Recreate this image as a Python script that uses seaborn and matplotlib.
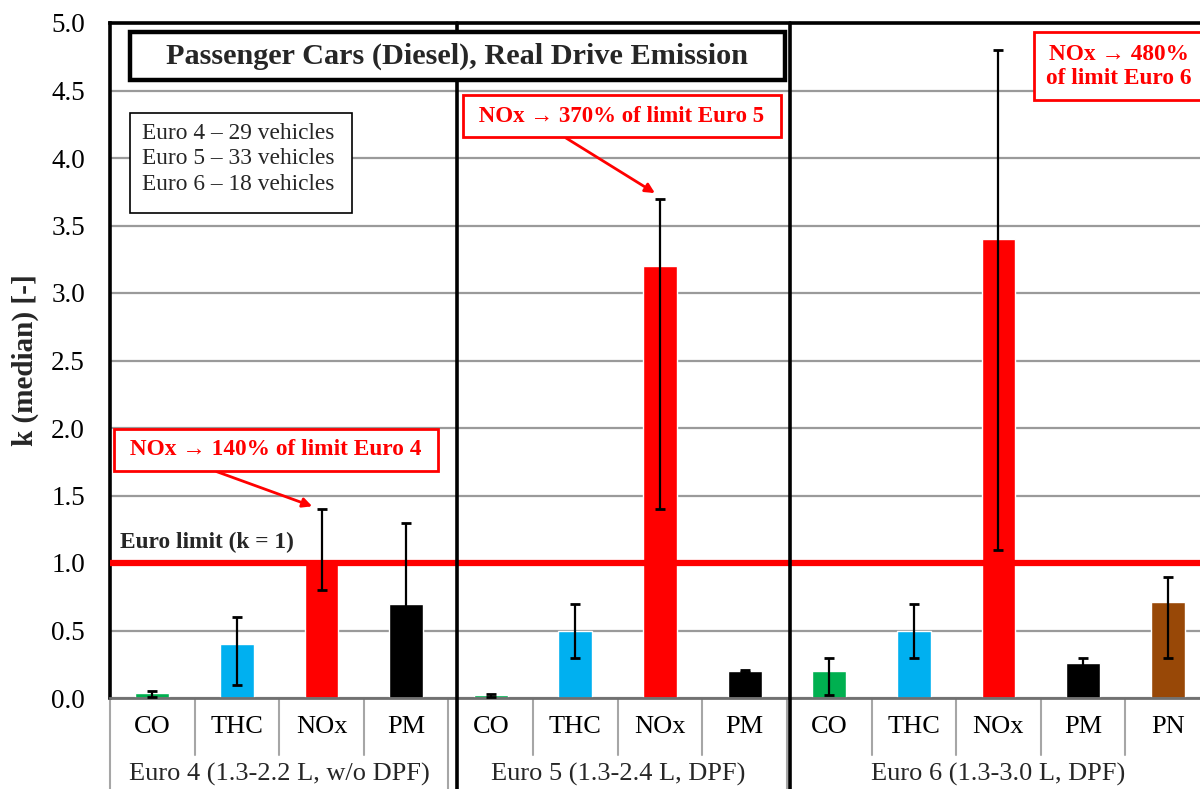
import numpy as np
import pandas as pd
import matplotlib.pyplot as plt
import matplotlib.transforms as mtransforms
from matplotlib.patches import Rectangle
import seaborn as sns

# --- Data (k = median emission / limit) ---
groups = ["Euro 4 (1.3-2.2 L, w/o DPF)", "Euro 5 (1.3-2.4 L, DPF)", "Euro 6 (1.3-3.0 L, DPF)"]
pollutants_e4 = ["CO", "THC", "NOx", "PM"]
pollutants_e5 = ["CO", "THC", "NOx", "PM"]
pollutants_e6 = ["CO", "THC", "NOx", "PM", "PN"]

k_e4 = [0.04, 0.40, 1.00, 0.70]
k_e5 = [0.02, 0.50, 3.20, 0.20]
k_e6 = [0.20, 0.50, 3.40, 0.26, 0.71]

low_e4 = [0.01, 0.10, 0.80, 0.40]
low_e5 = [0.01, 0.30, 1.40, 0.19]
low_e6 = [0.02, 0.30, 1.10, 0.22, 0.30]

high_e4 = [0.05, 0.60, 1.40, 1.30]
high_e5 = [0.03, 0.70, 3.70, 0.21]
high_e6 = [0.30, 0.70, 4.80, 0.30, 0.90]

vehicles = ["Euro 4 \u2013 29 vehicles", "Euro 5 \u2013 33 vehicles", "Euro 6 \u2013 18 vehicles"]
notes = ["NOx \u2192 140% of limit Euro 4", "NOx \u2192 370% of limit Euro 5",
         "NOx \u2192 480%\nof limit Euro 6"]

colors = {"CO": "#00B050", "THC": "#00B0F0", "NOx": "#FF0000", "PM": "#000000", "PN": "#984807"}

# --- Build table ---
rows = []
for grp, pols, ks, lo, hi in [(groups[0], pollutants_e4, k_e4, low_e4, high_e4),
                              (groups[1], pollutants_e5, k_e5, low_e5, high_e5),
                              (groups[2], pollutants_e6, k_e6, low_e6, high_e6)]:
    for p, k, l, h in zip(pols, ks, lo, hi):
        rows.append({"slot": grp[:6] + " " + p, "group": grp, "pollutant": p, "k": k, "low": l, "high": h})
df = pd.DataFrame(rows)
slot_order = list(df["slot"])
palette = {s: colors[p] for s, p in zip(df["slot"], df["pollutant"])}

# --- Plot ---
sns.set_theme(style="white")
plt.rcParams["font.family"] = ["Liberation Serif", "DejaVu Serif"]

fig = plt.figure(figsize=(12, 7.89), dpi=100)
ax = fig.add_axes([110 / 1200, 91 / 789, 1100 / 1200, 675 / 789])

sns.barplot(data=df, x="slot", y="k", hue="slot", order=slot_order, palette=palette,
            width=0.4, saturation=1, legend=False, ax=ax, zorder=2)

centers = [p.get_x() + p.get_width() / 2 for p in ax.patches]
yerr = [df["k"] - df["low"], df["high"] - df["k"]]
ax.errorbar(centers, df["k"], yerr=yerr, fmt="none", ecolor="black",
            elinewidth=1.6, capsize=3.5, capthick=2, zorder=5)

ax.set_xlim(-0.5, len(df) - 0.5)
ax.set_ylim(0, 5)
ax.set_yticks(np.arange(0, 5.01, 0.5))
ax.set_yticklabels([f"{v:.1f}" for v in np.arange(0, 5.01, 0.5)], fontsize=19.5)
ax.set_xticks(range(len(df)))
ax.set_xticklabels(df["pollutant"], fontsize=19)
ax.tick_params(axis="both", length=0, colors="black")
ax.tick_params(axis="x", pad=13)
ax.tick_params(axis="y", pad=18)
ax.set_xlabel("")
ax.set_ylabel("k (median) [-]", fontsize=21, fontweight="bold", labelpad=9)

ax.yaxis.grid(True, color="#9A9A9A", lw=1.6, zorder=0)
ax.set_axisbelow(True)

for side in ["left", "top"]:
    ax.spines[side].set_color("black")
    ax.spines[side].set_linewidth(2.6)
ax.spines["bottom"].set_color("#707070")
ax.spines["bottom"].set_linewidth(2)
ax.spines["right"].set_visible(False)

# Euro limit line
ax.axhline(1.0, color="#FF0000", lw=4.5, zorder=4)
ax.text(-0.38, 1.15, "Euro limit (k = 1)", fontsize=16.8, fontweight="bold",
        va="center", ha="left", zorder=6)

# Category axis dividers and group labels
trans = mtransforms.blended_transform_factory(ax.transData, ax.transAxes)
sizes = [len(pollutants_e4), len(pollutants_e5), len(pollutants_e6)]
bounds = np.cumsum([0] + sizes) - 0.5
for b in np.arange(-0.5, len(df), 1.0):
    is_group = np.any(np.isclose(bounds, b))
    ax.plot([b, b], [0, -0.135 if is_group else -0.085], transform=trans,
            color="#A6A6A6", lw=1.5, clip_on=False)
for grp, start, n in zip(groups, bounds[:-1], sizes):
    ax.text(start + n / 2, -0.114, grp, transform=trans, ha="center", va="center", fontsize=19)

# Thick group separators
for b in [bounds[1] + 0.1, bounds[2] + 0.04]:
    ax.plot([b, b], [-0.135, 1.0], transform=trans, color="black", lw=2.6, clip_on=False, zorder=6)

# Title box
fig.patches.append(Rectangle((130 / 1200, 1 - 80 / 789), 655 / 1200, 48 / 789, transform=fig.transFigure,
                             fill=True, facecolor="white", edgecolor="black", lw=3.2, zorder=10))
fig.text(457 / 1200, 1 - 56 / 789, "Passenger Cars (Diesel), Real Drive Emission",
         fontsize=21.8, fontweight="bold", ha="center", va="center", zorder=11)

# Vehicles box
fig.patches.append(Rectangle((130 / 1200, 1 - 213 / 789), 222 / 1200, 100 / 789, transform=fig.transFigure,
                             fill=True, facecolor="white", edgecolor="black", lw=1.2, zorder=10))
fig.text(142 / 1200, 1 - 159 / 789, "\n".join(vehicles), fontsize=16.8, ha="left", va="center",
         linespacing=1.28, zorder=11)

# NOx annotations
box = dict(boxstyle="square,pad=0.45", fc="white", ec="#FF0000", lw=2)
arrow = dict(arrowstyle="-|>", color="#FF0000", lw=2, mutation_scale=14, shrinkA=0, shrinkB=0)
ax.annotate(" " + notes[0] + " ", xy=(1.89, 1.42), xytext=(1.46, 1.84), fontsize=16.8, fontweight="bold",
            color="#FF0000", ha="center", va="center", bbox=box,
            arrowprops=dict(arrow, relpos=(0.2, 0)), zorder=7)
ax.annotate(" " + notes[1] + " ", xy=(5.94, 3.74), xytext=(5.55, 4.31), fontsize=16.5, fontweight="bold",
            color="#FF0000", ha="center", va="center", bbox=box,
            arrowprops=dict(arrow, relpos=(0.25, 0)), zorder=7)
ax.text(11.42, 4.68, notes[2], fontsize=16.8, fontweight="bold", color="#FF0000",
        ha="center", va="center", linespacing=1.2, bbox=dict(box, boxstyle="square,pad=0.5"), zorder=7)

fig.savefig("out.png", dpi=100)
